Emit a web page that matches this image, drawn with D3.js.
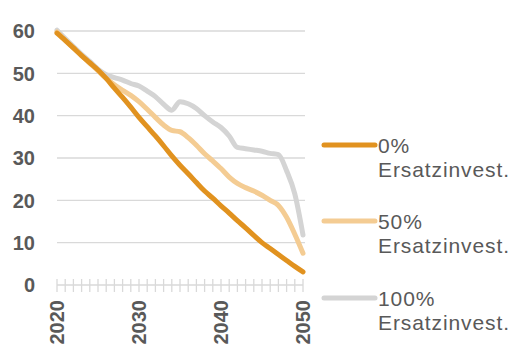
<!DOCTYPE html>
<html>
<head>
<meta charset="utf-8">
<script src="https://cdn.jsdelivr.net/npm/d3@7"></script>
<style>
  body { margin: 0; background: #fff; }
  text { font-family: "Liberation Sans", Arial, sans-serif; fill: #595959; }
</style>
</head>
<body>
<div id="chart"></div>
<script>
// Data
const years = d3.range(2020, 2051);
const yearLabels = [2020, 2030, 2040, 2050];
const yTicks = [0, 10, 20, 30, 40, 50, 60];

const seriesNames = ['0%', '50%', '100%'];
const legendSub = 'Ersatzinvest.';

const invest0 = [59.5, 57.8, 56.0, 54.2, 52.5, 50.8, 48.8, 46.5, 44.3, 42.0,
  39.6, 37.4, 35.2, 32.9, 30.5, 28.3, 26.3, 24.2, 22.2, 20.5,
  18.7, 17.0, 15.2, 13.5, 11.7, 10.0, 8.6, 7.2, 5.8, 4.4, 3.1];
const invest50 = [59.8, 57.8, 56.0, 54.2, 52.4, 50.6, 48.8, 47.3, 46.0, 44.8,
  43.3, 41.5, 39.6, 37.8, 36.5, 36.2, 34.8, 33.0, 31.0, 29.3,
  27.5, 25.5, 24.0, 23.0, 22.2, 21.2, 20.0, 18.8, 16.0, 12.0, 7.5];
const invest100 = [60.2, 58.2, 56.3, 54.5, 52.8, 51.0, 49.7, 49.0, 48.4, 47.6,
  47.0, 45.8, 44.5, 42.7, 41.3, 43.3, 42.8, 41.7, 40.0, 38.5,
  37.2, 35.2, 32.5, 32.2, 31.9, 31.6, 31.1, 30.8, 27.0, 21.5, 11.8];

const colors = ['#e1921f', '#f4cc93', '#d4d4d4'];
const allSeries = [invest0, invest50, invest100];

// Chart size
const width = 513, height = 350;

const x = d3.scaleLinear().domain([2020, 2050]).range([57, 303]);
const y = d3.scaleLinear().domain([0, 60]).range([285, 31]);

const svg = d3.select('#chart')
  .append('svg')
  .attr('width', width)
  .attr('height', height);

// Horizontal gridlines
svg.append('g')
  .selectAll('line')
  .data(yTicks.filter(d => d > 0))
  .enter()
  .append('line')
  .attr('x1', 57)
  .attr('x2', 305)
  .attr('y1', d => y(d))
  .attr('y2', d => y(d))
  .attr('stroke', '#d9d9d9')
  .attr('stroke-width', 1.3);

// Y labels
svg.append('g')
  .selectAll('text')
  .data(yTicks)
  .enter()
  .append('text')
  .attr('x', 35)
  .attr('y', d => y(d))
  .attr('dy', '0.36em')
  .attr('text-anchor', 'end')
  .style('font-size', '20px')
  .style('font-weight', 'bold')
  .text(d => d);

// X axis: one small tick per year
const xAxis = svg.append('g');
xAxis.append('line')
  .attr('x1', x(2020)).attr('x2', x(2050))
  .attr('y1', y(0)).attr('y2', y(0))
  .attr('stroke', '#d9d9d9')
  .attr('stroke-width', 1.3);
xAxis.selectAll('.tick')
  .data(years)
  .enter()
  .append('line')
  .attr('x1', d => x(d)).attr('x2', d => x(d))
  .attr('y1', y(0) - 6).attr('y2', y(0) + 7)
  .attr('stroke', '#d9d9d9')
  .attr('stroke-width', 1.3);

// Rotated year labels
xAxis.selectAll('.label')
  .data(yearLabels)
  .enter()
  .append('text')
  .attr('transform', d => `translate(${x(d)},300) rotate(-90)`)
  .attr('dy', '0.36em')
  .attr('text-anchor', 'end')
  .style('font-size', '20px')
  .style('font-weight', 'bold')
  .text(d => d);

// Lines, grey at the back, dark orange on top
const line = d3.line()
  .x((d, i) => x(years[i]))
  .y(d => y(d))
  .curve(d3.curveMonotoneX);

[2, 1, 0].forEach(k => {
  svg.append('path')
    .datum(allSeries[k])
    .attr('d', line)
    .attr('fill', 'none')
    .attr('stroke', colors[k])
    .attr('stroke-width', 5)
    .attr('stroke-linecap', 'round')
    .attr('stroke-linejoin', 'round');
});

// Legend
const legendY = [145, 221, 298];
const legend = svg.append('g')
  .selectAll('g')
  .data(seriesNames)
  .enter()
  .append('g')
  .attr('transform', (d, i) => `translate(0,${legendY[i]})`);

legend.append('line')
  .attr('x1', 324).attr('x2', 375)
  .attr('stroke', (d, i) => colors[i])
  .attr('stroke-width', 5)
  .attr('stroke-linecap', 'round');

legend.append('text')
  .attr('x', 378)
  .attr('y', 8)
  .style('font-size', '21px')
  .style('letter-spacing', '0.9px')
  .text(d => d);

legend.append('text')
  .attr('x', 378)
  .attr('y', 32)
  .style('font-size', '21px')
  .style('letter-spacing', '0.9px')
  .text(legendSub);
</script>
</body>
</html>
